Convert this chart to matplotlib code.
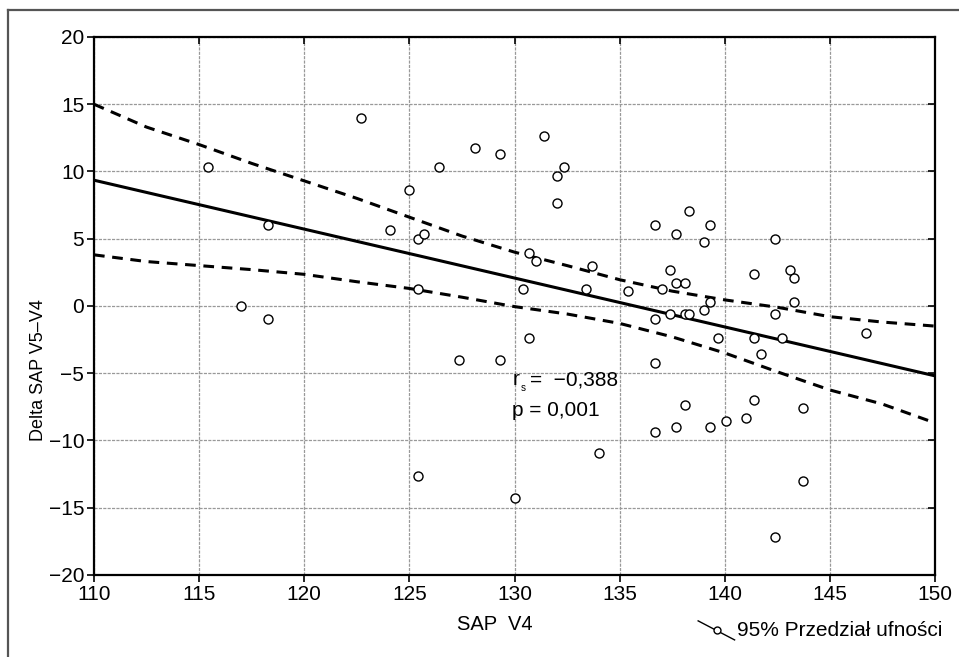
"""
SAP V4 vs Delta SAP V5-V4 scatter with regression line and 95% band
"""
from matplotlib import pyplot as plt
from matplotlib.lines import Line2D
import numpy as np

# measured points (SAP V4, delta SAP V5-V4)
sap_v4 = [115.4, 117.0, 118.3, 118.3, 122.7, 124.1, 125.0, 125.4, 125.7, 125.4,
          128.1, 126.4, 129.3, 131.4, 132.0, 132.35, 132.0, 136.7, 138.3, 137.7,
          139.3, 139.0, 142.4, 130.7, 131.0, 133.7, 130.4, 133.4, 135.4, 137.0,
          137.4, 137.7, 138.1, 139.3, 139.0, 137.4, 138.1, 138.3, 136.7, 141.4,
          142.4, 143.1, 143.3, 143.3, 130.7, 129.3, 136.7, 139.7, 141.4, 141.7,
          142.7, 146.7, 134.0, 130.0, 136.7, 137.7, 138.1, 139.3, 140.05, 141.0,
          141.4, 143.7, 143.7, 142.4, 127.35, 125.4]
delta_sap = [10.3, 0.0, 6.05, -1.0, 14.0, 5.65, 8.65, 4.96, 5.35, 1.29,
             11.72, 10.33, 11.33, 12.6, 9.64, 10.33, 7.63, 6.05, 7.04, 5.35,
             6.05, 4.76, 4.96, 3.97, 3.37, 2.97, 1.29, 1.29, 1.09, 1.29,
             2.68, 1.69, 1.69, 0.3, -0.3, -0.6, -0.6, -0.6, -1.0, 2.38,
             -0.6, 2.68, 2.08, 0.3, -2.38, -4.0, -4.26, -2.38, -2.38, -3.6,
             -2.38, -2.0, -10.95, -14.3, -9.34, -8.97, -7.39, -8.97, -8.57, -8.37,
             -6.96, -7.58, -12.99, -17.2, -4.0, -12.64]

# regression line and confidence band
fit_x = [110, 150]
fit_y = [9.35, -5.2]
band_x = [110, 112.5, 115, 117.5, 120, 122.5, 125, 127.5, 130, 132.5,
          135, 137.5, 140, 142.5, 145, 147.5, 150]
band_upper = [15.0, 13.3, 12.0, 10.6, 9.3, 8.0, 6.6, 5.2, 4.0, 3.0,
              1.95, 1.1, 0.45, -0.1, -0.8, -1.2, -1.5]
band_lower = [3.8, 3.3, 3.0, 2.7, 2.35, 1.8, 1.3, 0.65, -0.05, -0.6,
              -1.3, -2.3, -3.5, -4.9, -6.25, -7.3, -8.7]

x_ticks = [110, 115, 120, 125, 130, 135, 140, 145, 150]
y_ticks = [-20, -15, -10, -5, 0, 5, 10, 15, 20]

plt.rcParams['font.family'] = ['Liberation Sans', 'DejaVu Sans']

fig = plt.figure(figsize=(9.59, 6.57), dpi=100)
ax = fig.add_axes([0.098, 0.125, 0.877, 0.8187])

ax.plot(sap_v4, delta_sap, 'o', mfc='white', mec='black', ms=6.5, mew=1.0, zorder=4)
ax.plot(fit_x, fit_y, color='black', lw=2.2, zorder=3)
ax.plot(band_x, band_upper, color='black', lw=2.2, ls=(0, (3.5, 2.5)), zorder=3)
ax.plot(band_x, band_lower, color='black', lw=2.2, ls=(0, (3.5, 2.5)), zorder=3)

ax.set_xlim(110, 150)
ax.set_ylim(-20, 20)
ax.set_xticks(x_ticks)
ax.set_yticks(y_ticks)
ax.grid(True, color='#999999', lw=0.9, ls=(0, (2.5, 1)))
ax.set_axisbelow(True)
for s in ax.spines.values():
    s.set_linewidth(1.6)
ax.tick_params(axis='both', labelsize=15, direction='out', length=5, width=1.2, pad=2)
ax.tick_params(top=True, right=True)

# inward ticks on top and right
for t in ax.xaxis.get_major_ticks():
    t.tick2line.set_marker(3)
for t in ax.yaxis.get_major_ticks():
    t.tick2line.set_marker(0)

# correlation annotation
ax.text(129.9, -5.5, "r", fontsize=15, va='center')
ax.text(130.3, -6.1, "s", fontsize=7, va='center')
ax.text(130.75, -5.5, "=  \u22120,388", fontsize=15, va='center')
ax.text(129.9, -7.75, "p = 0,001", fontsize=15, va='center')

fig.text(0.04, 0.437, "Delta SAP V5\u2013V4", rotation=90, fontsize=13,
         family=['Liberation Sans Narrow', 'Liberation Sans'], ha='center', va='center')
fig.text(0.516, 0.049, "SAP  V4", fontsize=14.5, ha='center', va='center')

# legend entry
fig.add_artist(Line2D([0.728, 0.766], [0.055, 0.026], color='black', lw=1.0))
fig.add_artist(Line2D([0.7477], [0.041], marker='o', mfc='white', mec='black', ms=5, mew=1.0))
fig.text(0.769, 0.04, "95% Przedzia\u0142 ufno\u015bci", fontsize=15, ha='left', va='center')

# outer frame
fig.add_artist(Line2D([0.008, 1.0], [0.985, 0.985], color='#555555', lw=1.6))
fig.add_artist(Line2D([0.008, 0.008], [0.0, 0.985], color='#555555', lw=1.6))

plt.savefig('out.png', dpi=100)
